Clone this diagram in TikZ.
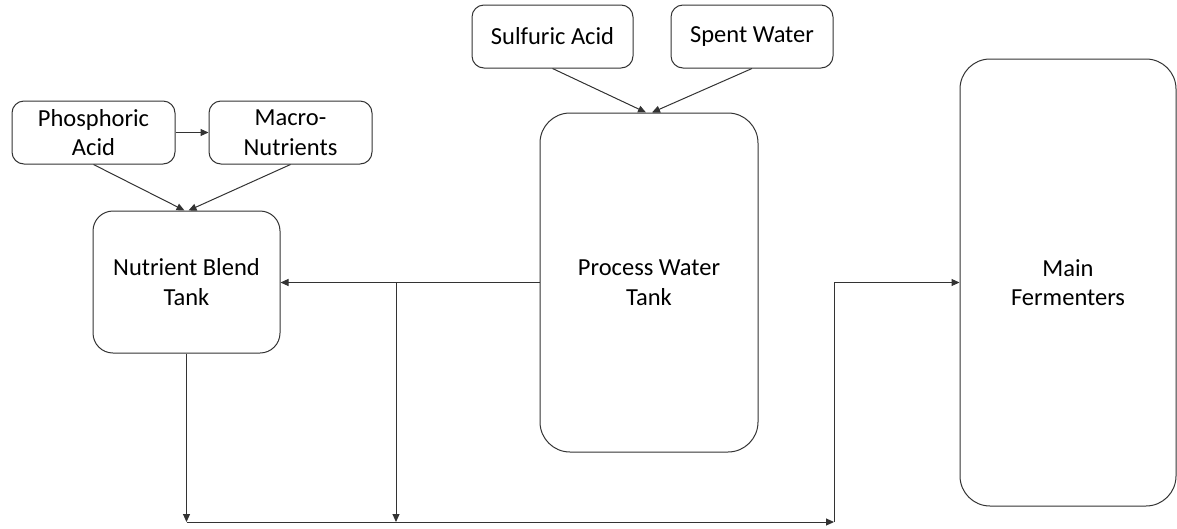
\documentclass[tikz,border=0pt]{standalone}
\usepackage{fontspec}
\setmainfont{Carlito}
\usetikzlibrary{arrows.meta}

\tikzset{
  tank/.style={draw=black!80, line width=1pt, rounded corners=#1, align=center,
    inner sep=0pt, font=\fontsize{24.5}{29.5}\selectfont},
  tank/.default=12pt,
  flow/.style={draw=black!80, line width=1pt, -{Triangle[length=8pt,width=7pt]}}
}

\begin{document}
\begin{tikzpicture}[x=1pt, y=-1pt]

    % Page frame
    \useasboundingbox (0,0) rectangle (1177,528);

    % Feed boxes
    \node[tank, minimum width=163pt, minimum height=63pt] (phos) at (93.5,132.5) {Phosphoric\\Acid};
    \node[tank, minimum width=163pt, minimum height=63pt] (macro) at (290.5,132.5) {Macro-\\Nutrients};
    \node[tank, minimum width=161pt, minimum height=63pt] (sulf) at (552.5,36.5) {Sulfuric Acid};
    \node[tank, minimum width=162pt, minimum height=63pt] (spent) at (752,36.5) {Spent Water};

    % Tanks
    \node[tank=20pt, minimum width=187pt, minimum height=142pt] (blend) at (186.5,282) {Nutrient Blend\\Tank};
    \node[tank=30pt, minimum width=218pt, minimum height=339pt] (water) at (649,282.5) {Process Water\\Tank};
    \node[tank=30pt, minimum width=216pt, minimum height=447pt] (ferm) at (1068,282.5) {Main\\Fermenters};

    % Points of the bottom line
    \coordinate (split) at (396,0);
    \coordinate (bus) at (186.5,522);
    \coordinate (riser) at (834,522);

    % Feeds into tanks
    \draw[flow] (phos) -- (macro);
    \draw[flow] (phos.south) -- ([xshift=-2pt]blend.north);
    \draw[flow] (macro.south) -- ([xshift=2pt]blend.north);
    \draw[flow] (sulf.south) -- ([xshift=-3pt]water.north);
    \draw[flow] (spent.south) -- ([xshift=3pt]water.north);

    % Process water out
    \draw[flow] (water.west) -- (water.west -| blend.east);
    \draw[flow] (water.west -| split) -- (split |- bus);
    \draw[flow] (blend.south) -- (blend.south |- bus);

    % Bottom line to fermenters
    \draw[flow] (bus) -- (riser);
    \draw[flow] (riser) |- (ferm.west);

\end{tikzpicture}
\end{document}
